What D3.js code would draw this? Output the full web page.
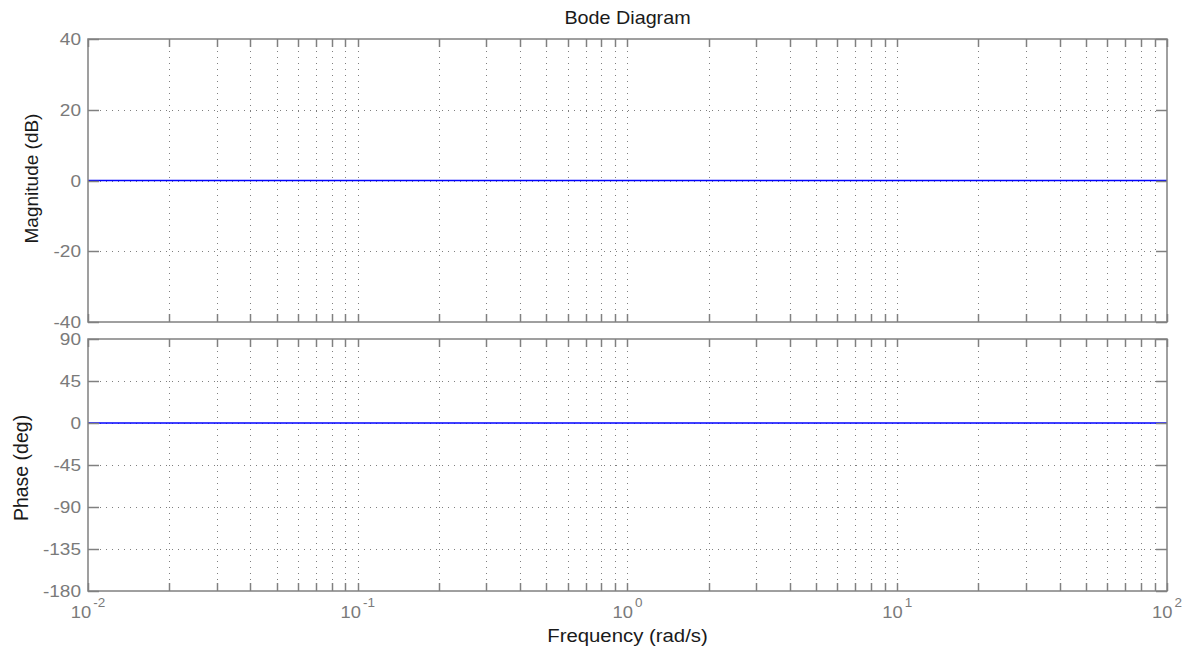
<!DOCTYPE html>
<html><head><meta charset="utf-8">
<script src="https://cdn.jsdelivr.net/npm/d3@7"></script>
<style>body{margin:0;background:#fff;} svg{display:block;}</style>
</head><body>
<svg id="c" width="1184" height="650"></svg>
<script>
// ---- data ----
const freqs = [0.01, 0.1, 1, 10, 100];          // rad/s
const magnitude = [0, 0, 0, 0, 0];               // dB
const phase = [0, 0, 0, 0, 0];                   // deg
const magTicks = [40, 20, 0, -20, -40];
const phaseTicks = [90, 45, 0, -45, -90, -135, -180];
const decadeExponents = [-2, -1, 0, 1, 2];
const titleText = "Bode Diagram";
const xLabelText = "Frequency (rad/s)";
const magLabelText = "Magnitude (dB)";
const phaseLabelText = "Phase (deg)";

// ---- layout ----
const L = 88, R = 1167;
const magTop = 39, magBot = 322;
const phTop = 339, phBot = 591;
const axisColor = "#808080";
const tickTextColor = "#7a7a7a";
const labelColor = "#1a1a1a";
const font = "'Liberation Sans', Arial, Helvetica, sans-serif";

const svg = d3.select("#c");
const x = d3.scaleLog().domain([Math.pow(10, decadeExponents[0]), Math.pow(10, decadeExponents[decadeExponents.length-1])]).range([L, R]);
const yMag = d3.scaleLinear().domain([d3.min(magTicks), d3.max(magTicks)]).range([magBot, magTop]);
const yPh = d3.scaleLinear().domain([d3.min(phaseTicks), d3.max(phaseTicks)]).range([phBot, phTop]);

const majorX = decadeExponents.map(e => Math.pow(10, e));
const minorX = [];
decadeExponents.slice(0, -1).forEach(e => { for (let k = 2; k <= 9; k++) minorX.push(k * Math.pow(10, e)); });
const allX = majorX.concat(minorX);

function panel(y, ticks, top, bot, values, showXLabels) {
  const g = svg.append("g");
  // vertical grid
  g.selectAll(".vg").data(allX.filter(v => x(v) > L + 1 && x(v) < R - 1)).enter().append("line")
    .attr("x1", d => Math.round(x(d)) + 0.5).attr("x2", d => Math.round(x(d)) + 0.5)
    .attr("y1", top).attr("y2", bot)
    .attr("stroke", "#7f7f7f").attr("stroke-width", 1).attr("stroke-dasharray", "1,5");
  // horizontal grid
  g.selectAll(".hg").data(ticks.filter(t => y(t) > top + 1 && y(t) < bot - 1)).enter().append("line")
    .attr("x1", L).attr("x2", R)
    .attr("y1", d => Math.round(y(d)) + 0.5).attr("y2", d => Math.round(y(d)) + 0.5)
    .attr("stroke", "#7f7f7f").attr("stroke-width", 1).attr("stroke-dasharray", "1,5");
  // data line
  const line = d3.line().x((d, i) => x(freqs[i])).y(d => y(d));
  g.append("path").datum(values).attr("d", line)
    .attr("fill", "none").attr("stroke", "#0000ff").attr("stroke-width", 1.6);
  // box
  g.append("rect").attr("x", L).attr("y", top).attr("width", R - L).attr("height", bot - top)
    .attr("fill", "none").attr("stroke", axisColor).attr("stroke-width", 1.5);
  // x ticks (top & bottom)
  allX.forEach(v => {
    const xx = Math.round(x(v)) + 0.5;
    g.append("line").attr("x1", xx).attr("x2", xx).attr("y1", bot).attr("y2", bot - 8)
      .attr("stroke", axisColor).attr("stroke-width", 1.5);
    g.append("line").attr("x1", xx).attr("x2", xx).attr("y1", top).attr("y2", top + 8)
      .attr("stroke", axisColor).attr("stroke-width", 1.5);
  });
  // y ticks (left & right)
  ticks.forEach(t => {
    const yy = Math.round(y(t)) + 0.5;
    g.append("line").attr("x1", L).attr("x2", L + 11).attr("y1", yy).attr("y2", yy)
      .attr("stroke", axisColor).attr("stroke-width", 1.5);
    g.append("line").attr("x1", R).attr("x2", R - 11).attr("y1", yy).attr("y2", yy)
      .attr("stroke", axisColor).attr("stroke-width", 1.5);
  });
  // y tick labels
  g.selectAll(".yl").data(ticks).enter().append("text")
    .attr("transform", d => `translate(81,${y(d)}) scale(1.12,1)`)
    .attr("text-anchor", "end").attr("dy", "0.36em")
    .attr("font-family", font).attr("font-size", 17).attr("fill", tickTextColor)
    .text(d => d);
  if (showXLabels) {
    decadeExponents.forEach(e => {
      const t = g.append("text")
        .attr("transform", `translate(${x(Math.pow(10, e))},618) scale(1.08,1)`)
        .attr("text-anchor", "middle")
        .attr("font-family", font).attr("font-size", 17).attr("fill", tickTextColor);
      t.append("tspan").text("10");
      t.append("tspan").attr("dx", 2).attr("dy", -11).attr("font-size", 12.5).text(e);
    });
  }
}

panel(yMag, magTicks, magTop, magBot, magnitude, false);
panel(yPh, phaseTicks, phTop, phBot, phase, true);

// title
svg.append("text").attr("transform", `translate(${(L + R) / 2},24) scale(1.04,1)`)
  .attr("text-anchor", "middle").attr("font-family", font).attr("font-size", 19)
  .attr("fill", labelColor).text(titleText);
// x label
svg.append("text").attr("transform", `translate(${(L + R) / 2},642) scale(1.1,1)`)
  .attr("text-anchor", "middle").attr("font-family", font).attr("font-size", 18.5)
  .attr("fill", labelColor).text(xLabelText);
// y labels
svg.append("text").attr("transform", `translate(38,${(magTop + magBot) / 2 - 2}) rotate(-90)`)
  .attr("text-anchor", "middle").attr("font-family", font).attr("font-size", 19)
  .attr("fill", labelColor).text(magLabelText);
svg.append("text").attr("transform", `translate(28,${(phTop + phBot) / 2 + 3}) rotate(-90)`)
  .attr("text-anchor", "middle").attr("font-family", font).attr("font-size", 19.5)
  .attr("fill", labelColor).text(phaseLabelText);
</script>
</body></html>
